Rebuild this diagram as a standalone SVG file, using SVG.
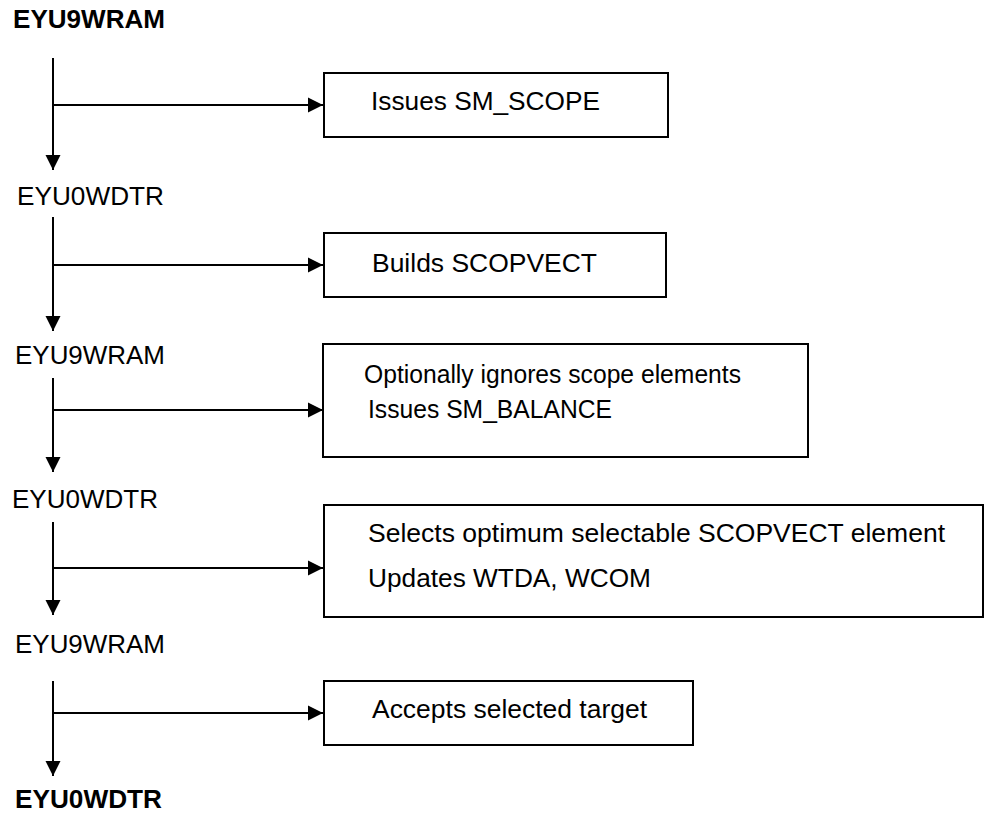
<svg xmlns="http://www.w3.org/2000/svg" width="984" height="828" viewBox="0 0 984 828">
<style>
.lbl{font-family:"Liberation Sans",Arial,sans-serif;font-size:25px;fill:#000}
.b{font-weight:bold}
.box{fill:#fff;stroke:#000;stroke-width:2}
.ln{stroke:#000;stroke-width:2;fill:none}
</style>
<defs>
<marker id="ah" markerUnits="userSpaceOnUse" markerWidth="16" markerHeight="16" refX="15" refY="8" orient="auto" viewBox="0 0 16 16">
<path d="M0,0.5 L15,8 L0,15.5 z" fill="#000"/>
</marker>
</defs>
<rect width="984" height="828" fill="#fff"/>
<g id="connectors">
<line class="ln" x1="53" y1="58" x2="53" y2="170" marker-end="url(#ah)"/>
<line class="ln" x1="53" y1="105" x2="323" y2="105" marker-end="url(#ah)"/>
<line class="ln" x1="53" y1="217" x2="53" y2="331" marker-end="url(#ah)"/>
<line class="ln" x1="53" y1="265" x2="323" y2="265" marker-end="url(#ah)"/>
<line class="ln" x1="53" y1="378" x2="53" y2="472" marker-end="url(#ah)"/>
<line class="ln" x1="53" y1="410" x2="323" y2="410" marker-end="url(#ah)"/>
<line class="ln" x1="53" y1="522" x2="53" y2="615" marker-end="url(#ah)"/>
<line class="ln" x1="53" y1="568" x2="323" y2="568" marker-end="url(#ah)"/>
<line class="ln" x1="53" y1="681" x2="53" y2="776" marker-end="url(#ah)"/>
<line class="ln" x1="53" y1="713" x2="323" y2="713" marker-end="url(#ah)"/>
</g>
<g id="n-eyu9wram-1"><text class="lbl b" x="13" y="28" textLength="152" lengthAdjust="spacingAndGlyphs">EYU9WRAM</text></g>
<g id="n-eyu0wdtr-1"><text class="lbl" x="17" y="205" textLength="147" lengthAdjust="spacingAndGlyphs">EYU0WDTR</text></g>
<g id="n-eyu9wram-2"><text class="lbl" x="15" y="364" textLength="150" lengthAdjust="spacingAndGlyphs">EYU9WRAM</text></g>
<g id="n-eyu0wdtr-2"><text class="lbl" x="12" y="508" textLength="146" lengthAdjust="spacingAndGlyphs">EYU0WDTR</text></g>
<g id="n-eyu9wram-3"><text class="lbl" x="15" y="653" textLength="150" lengthAdjust="spacingAndGlyphs">EYU9WRAM</text></g>
<g id="n-eyu0wdtr-3"><text class="lbl b" x="15" y="808" textLength="147" lengthAdjust="spacingAndGlyphs">EYU0WDTR</text></g>
<g id="box-scope">
<rect class="box" x="324" y="73" width="344" height="64"/>
<text class="lbl" x="371" y="110" textLength="229" lengthAdjust="spacingAndGlyphs">Issues SM_SCOPE</text>
</g>
<g id="box-builds">
<rect class="box" x="324" y="233" width="342" height="64"/>
<text class="lbl" x="372" y="272" textLength="225" lengthAdjust="spacingAndGlyphs">Builds SCOPVECT</text>
</g>
<g id="box-balance">
<rect class="box" x="323" y="344" width="485" height="113"/>
<text class="lbl" x="364" y="383" textLength="377" lengthAdjust="spacingAndGlyphs">Optionally ignores scope elements</text>
<text class="lbl" x="368" y="418" textLength="244" lengthAdjust="spacingAndGlyphs">Issues SM_BALANCE</text>
</g>
<g id="box-selects">
<rect class="box" x="324" y="505" width="659" height="112"/>
<text class="lbl" x="368" y="542" textLength="577" lengthAdjust="spacingAndGlyphs">Selects optimum selectable SCOPVECT element</text>
<text class="lbl" x="368" y="587" textLength="283" lengthAdjust="spacingAndGlyphs">Updates WTDA, WCOM</text>
</g>
<g id="box-accepts">
<rect class="box" x="324" y="681" width="369" height="64"/>
<text class="lbl" x="372" y="718" textLength="275" lengthAdjust="spacingAndGlyphs">Accepts selected target</text>
</g>
</svg>
